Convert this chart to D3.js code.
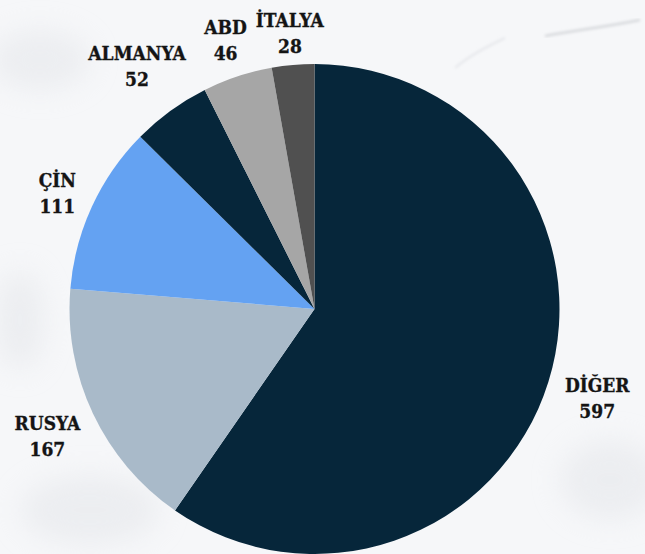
<!DOCTYPE html>
<html>
<head>
<meta charset="utf-8">
<script src="https://cdn.jsdelivr.net/npm/d3@7"></script>
<style>
  html, body { margin: 0; padding: 0; background: #f6f7f9; }
  #chart { width: 645px; height: 554px; }
  .label { font-family: "DejaVu Serif Condensed", "DejaVu Serif", serif; font-weight: bold; fill: #141414; stroke: #141414; stroke-width: 0.35px; font-size: 19px; }
</style>
</head>
<body>
<div id="chart"></div>
<script>
// slice data, clockwise from 12 o'clock
const countries = ['DİĞER', 'RUSYA', 'ÇİN', 'ALMANYA', 'ABD', 'İTALYA'];
const values = [597, 167, 111, 52, 46, 28];
const colors = ['#06263a', '#a9bac9', '#64a2f2', '#06263a', '#a6a6a6', '#505050'];

// small hand nudges so labels sit where the original put them
const labelNudge = [[4, 0], [-3, 0], [8, 4], [-6, -9], [3, 6], [1, 13]];

const width = 645, height = 554;
const cx = 314.5, cy = 309, radius = 245;
const labelRadius = 292;

const svg = d3.select('#chart').append('svg')
  .attr('width', width)
  .attr('height', height);

// marble-ish background
const defs = svg.append('defs');
defs.append('filter').attr('id', 'blur').attr('x', '-50%').attr('y', '-50%').attr('width', '200%').attr('height', '200%')
  .append('feGaussianBlur').attr('stdDeviation', 14);
defs.append('filter').attr('id', 'vein').append('feGaussianBlur').attr('stdDeviation', 1.6);

svg.append('rect').attr('width', width).attr('height', height).attr('fill', '#f6f7f9');
const bg = svg.append('g');
const clouds = [[40, 60, 50, 30], [90, 510, 70, 35], [610, 480, 50, 40], [20, 320, 25, 50]];
clouds.forEach(c => bg.append('ellipse')
  .attr('cx', c[0]).attr('cy', c[1]).attr('rx', c[2]).attr('ry', c[3])
  .attr('fill', '#e2e4e8').attr('opacity', 0.5).attr('filter', 'url(#blur)'));
bg.append('path')
  .attr('d', 'M545,36 C575,30 600,28 640,20')
  .attr('fill', 'none').attr('stroke', '#cfd1d5').attr('stroke-width', 2).attr('filter', 'url(#vein)');
bg.append('path')
  .attr('d', 'M455,68 C470,55 490,45 505,38')
  .attr('fill', 'none').attr('stroke', '#e0e2e6').attr('stroke-width', 1.5).attr('filter', 'url(#vein)');

const pie = d3.pie().sort(null).value(d => d);
const arcs = pie(values);
const arc = d3.arc().innerRadius(0).outerRadius(radius);
const labelArc = d3.arc().innerRadius(labelRadius).outerRadius(labelRadius);

const g = svg.append('g').attr('transform', `translate(${cx},${cy})`);

g.selectAll('path.slice')
  .data(arcs)
  .join('path')
  .attr('class', 'slice')
  .attr('d', arc)
  .attr('fill', (d, i) => colors[i]);

const labels = g.selectAll('text.label')
  .data(arcs)
  .join('text')
  .attr('class', 'label')
  .attr('text-anchor', 'middle')
  .attr('transform', (d, i) => {
    const [x, y] = labelArc.centroid(d);
    return `translate(${x + labelNudge[i][0]},${y + labelNudge[i][1]})`;
  });

labels.append('tspan')
  .attr('x', 0).attr('y', -4)
  .text((d, i) => countries[i]);
labels.append('tspan')
  .attr('x', 0).attr('y', 22)
  .text(d => d.data);
</script>
</body>
</html>
